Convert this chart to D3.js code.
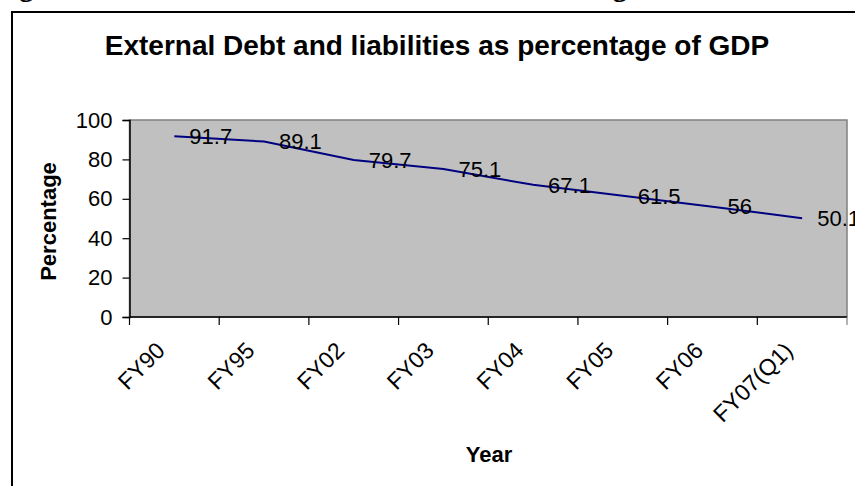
<!DOCTYPE html>
<html>
<head>
<meta charset="utf-8">
<script src="https://cdn.jsdelivr.net/npm/d3@7"></script>
<style>
  html, body { margin: 0; padding: 0; background: #fff; overflow: hidden; }
  svg { display: block; }
</style>
</head>
<body>
<svg id="chart" width="855" height="486"></svg>
<script>
// Fiscal years and external debt & liabilities as % of GDP
const years = ["FY90", "FY95", "FY02", "FY03", "FY04", "FY05", "FY06", "FY07(Q1)"];
const debtPct = [91.7, 89.1, 79.7, 75.1, 67.1, 61.5, 56, 50.1];
const yTicks = [0, 20, 40, 60, 80, 100];

const svg = d3.select("#chart");
const W = 855, H = 486;
const plot = { left: 129.5, top: 120, right: 847, bottom: 317 };

// Caption above the framed chart (mostly out of view)
svg.append("text")
  .attr("x", -6).attr("y", -4)
  .attr("font-family", "Liberation Serif, Times New Roman, serif")
  .attr("font-weight", "bold").attr("font-size", 28.5)
  .text("Figure 2: External Debt and Liabilities as Percentage of GDP");

// Chart frame
svg.append("rect")
  .attr("x", 12).attr("y", 12).attr("width", W + 10).attr("height", H + 10)
  .attr("fill", "#fff").attr("stroke", "#000").attr("stroke-width", 2);

const x = d3.scaleBand().domain(years).range([plot.left, plot.right]).padding(0);
const y = d3.scaleLinear().domain([0, 100]).range([plot.bottom, plot.top]);

// Plot area
svg.append("rect")
  .attr("x", plot.left).attr("y", plot.top)
  .attr("width", plot.right - plot.left).attr("height", plot.bottom - plot.top)
  .attr("fill", "#c0c0c0").attr("stroke", "#808080").attr("stroke-width", 1.5);

const font = "Liberation Sans, Arial, sans-serif";

// Title
svg.append("text")
  .attr("x", 437).attr("y", 55)
  .attr("text-anchor", "middle")
  .attr("font-family", font).attr("font-weight", "bold").attr("font-size", 28)
  .text("External Debt and liabilities as percentage of GDP");

// Y axis
const yAxis = svg.append("g")
  .attr("transform", `translate(${plot.left},0)`)
  .call(d3.axisLeft(y).tickValues(yTicks).tickSize(7).tickPadding(10).tickFormat(d3.format("d")));
yAxis.select(".domain").attr("stroke", "#000").attr("stroke-width", 1.5);
yAxis.selectAll(".tick line").attr("stroke", "#000").attr("stroke-width", 1.2);
yAxis.selectAll(".tick text")
  .attr("font-family", font).attr("font-size", 22).attr("fill", "#000");

// X axis: ticks on category boundaries
const xAxisG = svg.append("g").attr("transform", `translate(0,${plot.bottom})`);
xAxisG.append("line")
  .attr("x1", plot.left).attr("x2", plot.right)
  .attr("stroke", "#000").attr("stroke-width", 1.5);
const bounds = years.map(d => x(d)).concat([plot.right]);
xAxisG.selectAll(".xtick").data(bounds).join("line")
  .attr("class", "xtick")
  .attr("x1", d => d).attr("x2", d => d)
  .attr("y1", 0).attr("y2", 8)
  .attr("stroke", (d, i) => i === bounds.length - 1 ? "#808080" : "#000")
  .attr("stroke-width", 1.2);

svg.append("g").selectAll("text").data(years).join("text")
  .attr("transform", d => `translate(${x(d) + x.bandwidth() / 2 - 8},${352}) rotate(-45)`)
  .attr("text-anchor", "end")
  .attr("font-family", font).attr("font-size", 23).attr("fill", "#000")
  .text(d => d);

// Axis titles
svg.append("text")
  .attr("x", 489).attr("y", 462)
  .attr("text-anchor", "middle")
  .attr("font-family", font).attr("font-weight", "bold").attr("font-size", 22)
  .text("Year");

svg.append("text")
  .attr("transform", `translate(56,${(plot.top + plot.bottom) / 2 + 3}) rotate(-90)`)
  .attr("text-anchor", "middle")
  .attr("font-family", font).attr("font-weight", "bold").attr("font-size", 22)
  .text("Percentage");

// Series line
const pts = years.map((d, i) => ({ year: d, v: debtPct[i] }));
const line = d3.line()
  .x(d => x(d.year) + x.bandwidth() / 2)
  .y(d => y(d.v));
svg.append("path")
  .datum(pts)
  .attr("d", line)
  .attr("fill", "none")
  .attr("stroke", "#000080")
  .attr("stroke-width", 2);

// Data labels to the right of each point
svg.append("g").selectAll("text").data(pts).join("text")
  .attr("x", d => x(d.year) + x.bandwidth() / 2 + 15)
  .attr("y", d => y(d.v))
  .attr("dy", "0.35em")
  .attr("font-family", font).attr("font-size", 22).attr("fill", "#000")
  .text(d => String(d.v));
</script>
</body>
</html>
